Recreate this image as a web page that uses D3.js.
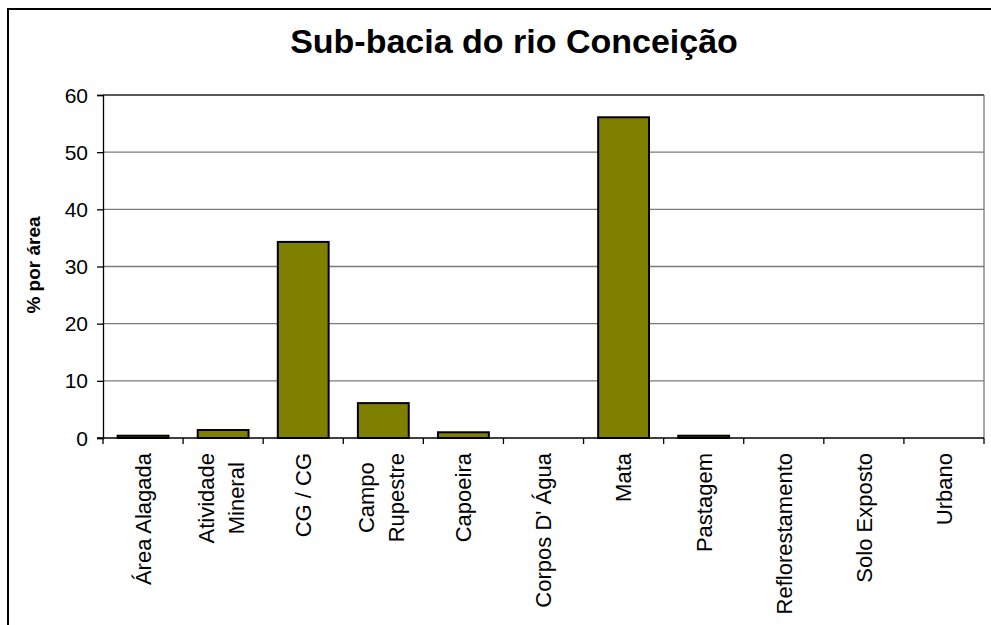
<!DOCTYPE html>
<html>
<head>
<meta charset="utf-8">
<script src="https://cdn.jsdelivr.net/npm/d3@7"></script>
<style>
  html, body { margin: 0; padding: 0; background: #fff; }
  svg { display: block; }
  text { font-family: Arial, "Liberation Sans", sans-serif; fill: #000; }
</style>
</head>
<body>
<svg id="chart" width="991" height="625"></svg>
<script>
// Land-use share (% of area) in the Conceição river sub-basin
const categories = [
  "Área Alagada", "Atividade\nMineral", "CG / CG", "Campo\nRupestre", "Capoeira",
  "Corpos D' Água", "Mata", "Pastagem", "Reflorestamento", "Solo Exposto", "Urbano"
];
const values = [0.4, 1.4, 34.3, 6.1, 1.0, 0, 56.1, 0.4, 0, 0, 0];
const yTicks = [0, 10, 20, 30, 40, 50, 60];
const titleText = "Sub-bacia do rio Conceição";
const yAxisTitle = "% por área";

const svg = d3.select("#chart");
const plot = { left: 103, right: 984, top: 95, bottom: 438 };

// outer chart frame (runs off the right and bottom edges)
svg.append("rect")
  .attr("x", 8).attr("y", 9).attr("width", 1200).attr("height", 1000)
  .attr("fill", "none").attr("stroke", "#000").attr("stroke-width", 2);

const x = d3.scaleBand()
  .domain(categories)
  .range([plot.left, plot.right])
  .paddingInner(0.365)
  .paddingOuter(0.365 / 2);

const y = d3.scaleLinear().domain([0, 60]).range([plot.bottom, plot.top]);

// horizontal gridlines
svg.append("g")
  .selectAll("line")
  .data(yTicks.filter(t => t > 0))
  .join("line")
  .attr("x1", plot.left).attr("x2", plot.right)
  .attr("y1", d => y(d)).attr("y2", d => y(d))
  .attr("stroke", d => d === 60 ? "#222" : "#7a7a7a")
  .attr("stroke-width", 1.3);

// right border of the plot area
svg.append("line")
  .attr("x1", plot.right).attr("x2", plot.right)
  .attr("y1", plot.top).attr("y2", plot.bottom)
  .attr("stroke", "#7a7a7a").attr("stroke-width", 1.3);

// bars
svg.append("g")
  .selectAll("rect")
  .data(categories.map((c, i) => ({ c, v: values[i] })).filter(d => d.v > 0))
  .join("rect")
  .attr("x", d => x(d.c))
  .attr("y", d => y(d.v))
  .attr("width", x.bandwidth())
  .attr("height", d => y(0) - y(d.v))
  .attr("fill", "#808000")
  .attr("stroke", "#000")
  .attr("stroke-width", 2);

// y axis
const yAxis = d3.axisLeft(y).tickValues(yTicks).tickSize(6).tickFormat("");
const gy = svg.append("g").attr("transform", `translate(${plot.left},0)`).call(yAxis);
gy.select(".domain").attr("stroke", "#000").attr("stroke-width", 1.3);
gy.selectAll(".tick line").attr("stroke", "#000").attr("stroke-width", 1.3);

svg.append("g")
  .selectAll("text")
  .data(yTicks)
  .join("text")
  .attr("x", 88)
  .attr("y", d => y(d))
  .attr("dy", "0.36em")
  .attr("text-anchor", "end")
  .attr("font-size", 21)
  .text(d => d);

// x axis: baseline plus tick marks at category boundaries
const step = x.step();
const bounds = d3.range(categories.length + 1).map(i => plot.left + i * step);
svg.append("line")
  .attr("x1", plot.left - 6).attr("x2", plot.right)
  .attr("y1", plot.bottom).attr("y2", plot.bottom)
  .attr("stroke", "#000").attr("stroke-width", 1.3);
svg.append("g")
  .selectAll("line")
  .data(bounds)
  .join("line")
  .attr("x1", d => d).attr("x2", d => d)
  .attr("y1", plot.bottom).attr("y2", plot.bottom + 6)
  .attr("stroke", "#000").attr("stroke-width", 1.3);

// rotated category labels
const labelTop = 453;
const lineGap = 30;
const fontSize = 22;
const capOffset = fontSize * 0.716 / 2;
const labelG = svg.append("g");
categories.forEach(cat => {
  const lines = cat.split("\n");
  const cx = x(cat) + x.bandwidth() / 2;
  const texts = lines.map((ln, i) => {
    const bx = cx + capOffset + (i - (lines.length - 1) / 2) * lineGap - (lines.length > 1 ? 2 : 0);
    return labelG.append("text")
      .attr("font-size", fontSize)
      .attr("data-bx", bx)
      .text(ln);
  });
  const maxLen = d3.max(texts, t => t.node().getComputedTextLength());
  texts.forEach(t => {
    const bx = +t.attr("data-bx");
    if (lines.length === 1) {
      t.attr("text-anchor", "end")
       .attr("transform", `translate(${bx},${labelTop}) rotate(-90)`);
    } else {
      t.attr("text-anchor", "middle")
       .attr("transform", `translate(${bx},${labelTop + maxLen / 2}) rotate(-90)`);
    }
    t.attr("data-bx", null);
  });
});

// y axis title
svg.append("text")
  .attr("transform", "translate(40,265) rotate(-90)")
  .attr("text-anchor", "middle")
  .attr("font-size", 19)
  .attr("font-weight", "bold")
  .text(yAxisTitle);

// chart title
svg.append("text")
  .attr("x", 514)
  .attr("y", 53)
  .attr("text-anchor", "middle")
  .attr("font-size", 34)
  .attr("font-weight", "bold")
  .text(titleText);
</script>
</body>
</html>
